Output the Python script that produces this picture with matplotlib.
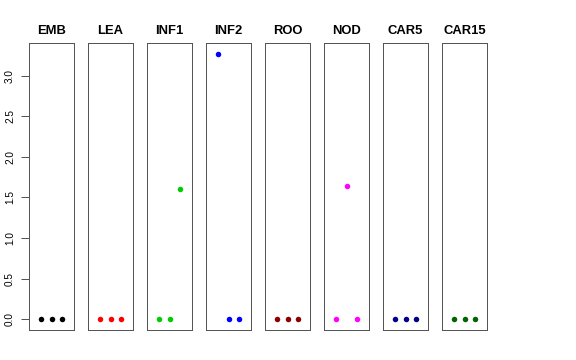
import matplotlib
matplotlib.use("Agg")
import matplotlib.pyplot as plt

tissues = ["EMB", "LEA", "INF1", "INF2", "ROO", "NOD", "CAR5", "CAR15"]
colors = ["#000000", "#FF0000", "#00CD00", "#0000FF", "#8B0000", "#FF00FF", "#00008B", "#006400"]
rep_x = [1, 2, 3]
values = [
    [0.0, 0.0, 0.0],
    [0.0, 0.0, 0.0],
    [0.0, 0.0, 1.61],
    [3.27, 0.0, 0.0],
    [0.0, 0.0, 0.0],
    [0.0, 1.64, 0.0],
    [0.0, 0.0, 0.0],
    [0.0, 0.0, 0.0],
]
yticks = [0.0, 0.5, 1.0, 1.5, 2.0, 2.5, 3.0]
ytick_labels = ["0.0", "0.5", "1.0", "1.5", "2.0", "2.5", "3.0"]

plt.rcParams['font.family'] = ['Liberation Sans', 'DejaVu Sans']
W, H = 576, 360
fig = plt.figure(figsize=(W / 72, H / 72), dpi=72)

ymax = max(max(v) for v in values)
ypad = 0.04 * ymax
for i, (name, col, vals) in enumerate(zip(tissues, colors, values)):
    left = 29 + 59 * i
    ax = fig.add_axes([left / W, 1 - 330 / H, 45 / W, (330 - 43) / H])
    ax.plot(rep_x, vals, 'o', color=col, markersize=5.5, markeredgewidth=0, clip_on=False)
    ax.set_xlim(-0.16, 4.16)
    ax.set_ylim(-ypad, ymax + ypad)
    ax.set_xticks([])
    for s in ax.spines.values():
        s.set_color("#555555")
        s.set_linewidth(1)
    ax.set_title(name, fontsize=13, fontweight='bold', pad=9)
    if i == 0:
        ax.set_yticks(yticks)
        ax.set_yticklabels(ytick_labels, rotation=90, va='center', fontsize=10)
        ax.tick_params(axis='y', length=8, width=1, color="#555555", pad=6)
    else:
        ax.set_yticks([])

fig.savefig("out.png", dpi=72)
